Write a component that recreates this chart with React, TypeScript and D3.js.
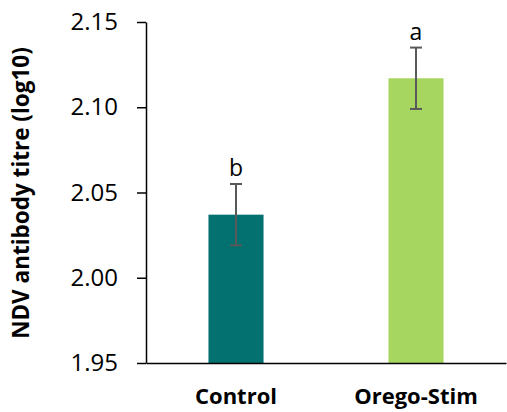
import React, { useEffect, useRef } from "react";
import * as d3 from "d3";

// Chart data
const categories = ["Control", "Orego-Stim"];
const means = [2.037, 2.117];
const errors = [0.018, 0.018];
const letters = ["b", "a"];
const yTicks = [1.95, 2.0, 2.05, 2.1, 2.15];
const colors = ["#02716f", "#a6d65f"];

const FONT = "'Open Sans', 'Noto Sans', sans-serif";

function BarChart() {
  const chartRef = useRef(null);

  useEffect(() => {
    const svg = d3.select(chartRef.current);
    svg.selectAll("*").remove();

    // Scales
    const y = d3.scaleLinear().domain([1.95, 2.15]).range([363, 22]);
    const x = d3
      .scaleBand()
      .domain(categories)
      .range([146, 506])
      .paddingInner(0.694)
      .paddingOuter(0.347);

    const rows = categories.map((c, i) => ({
      cat: c,
      mean: means[i],
      err: errors[i],
      letter: letters[i],
      color: colors[i],
    }));

    // Bars
    svg
      .append("g")
      .selectAll("rect")
      .data(rows)
      .enter()
      .append("rect")
      .attr("x", (d) => x(d.cat) as number)
      .attr("width", x.bandwidth())
      .attr("y", (d) => y(d.mean))
      .attr("height", (d) => y(1.95) - y(d.mean))
      .attr("fill", (d) => d.color);

    // Error bars
    const eb = svg.append("g").attr("stroke", "#595959").attr("stroke-width", 2);
    rows.forEach((d) => {
      const cx = (x(d.cat) as number) + x.bandwidth() / 2;
      eb.append("line")
        .attr("x1", cx)
        .attr("x2", cx)
        .attr("y1", y(d.mean + d.err))
        .attr("y2", y(d.mean - d.err));
      [d.mean + d.err, d.mean - d.err].forEach((v) => {
        eb.append("line")
          .attr("x1", cx - 6)
          .attr("x2", cx + 6)
          .attr("y1", y(v))
          .attr("y2", y(v));
      });
    });

    // Significance letters
    svg
      .append("g")
      .selectAll("text")
      .data(rows)
      .enter()
      .append("text")
      .attr("x", (d) => (x(d.cat) as number) + x.bandwidth() / 2)
      .attr("y", (d) => y(d.mean + d.err) - 8)
      .attr("text-anchor", "middle")
      .style("font-family", FONT)
      .style("font-size", "23px")
      .attr("fill", "#000")
      .text((d) => d.letter);

    // Y axis
    const yAxis = svg
      .append("g")
      .attr("transform", "translate(146,0)")
      .call(
        d3
          .axisLeft(y)
          .tickValues(yTicks)
          .tickSize(9)
          .tickSizeOuter(0)
          .tickPadding(19)
          .tickFormat(d3.format(".2f"))
      );
    yAxis.select(".domain").attr("stroke", "#000").attr("stroke-width", 1.5);
    yAxis.selectAll(".tick line").attr("stroke", "#000").attr("stroke-width", 1.5);
    yAxis
      .selectAll(".tick text")
      .attr("fill", "#000")
      .style("font-family", FONT)
      .style("font-size", "24px");

    // X axis
    const xAxis = svg
      .append("g")
      .attr("transform", "translate(0,363)")
      .call(d3.axisBottom(x).tickSize(0).tickSizeOuter(0).tickPadding(25));
    xAxis.select(".domain").attr("stroke", "#000").attr("stroke-width", 1.5);
    xAxis
      .selectAll(".tick text")
      .attr("fill", "#000")
      .style("font-family", FONT)
      .style("font-size", "22px")
      .style("font-weight", "bold");

    // Y title
    svg
      .append("text")
      .attr("transform", "translate(29,193) rotate(-90)")
      .attr("text-anchor", "middle")
      .style("font-family", FONT)
      .style("font-size", "22.5px")
      .style("font-weight", "bold")
      .attr("fill", "#000")
      .text("NDV antibody titre (log10)");
  }, []);

  return <svg ref={chartRef} width={507} height={412} style={{ display: "block" }} />;
}

export default function App() {
  return (
    <div style={{ position: "fixed", left: 0, top: 0, background: "#fff" }}>
      <BarChart />
    </div>
  );
}
